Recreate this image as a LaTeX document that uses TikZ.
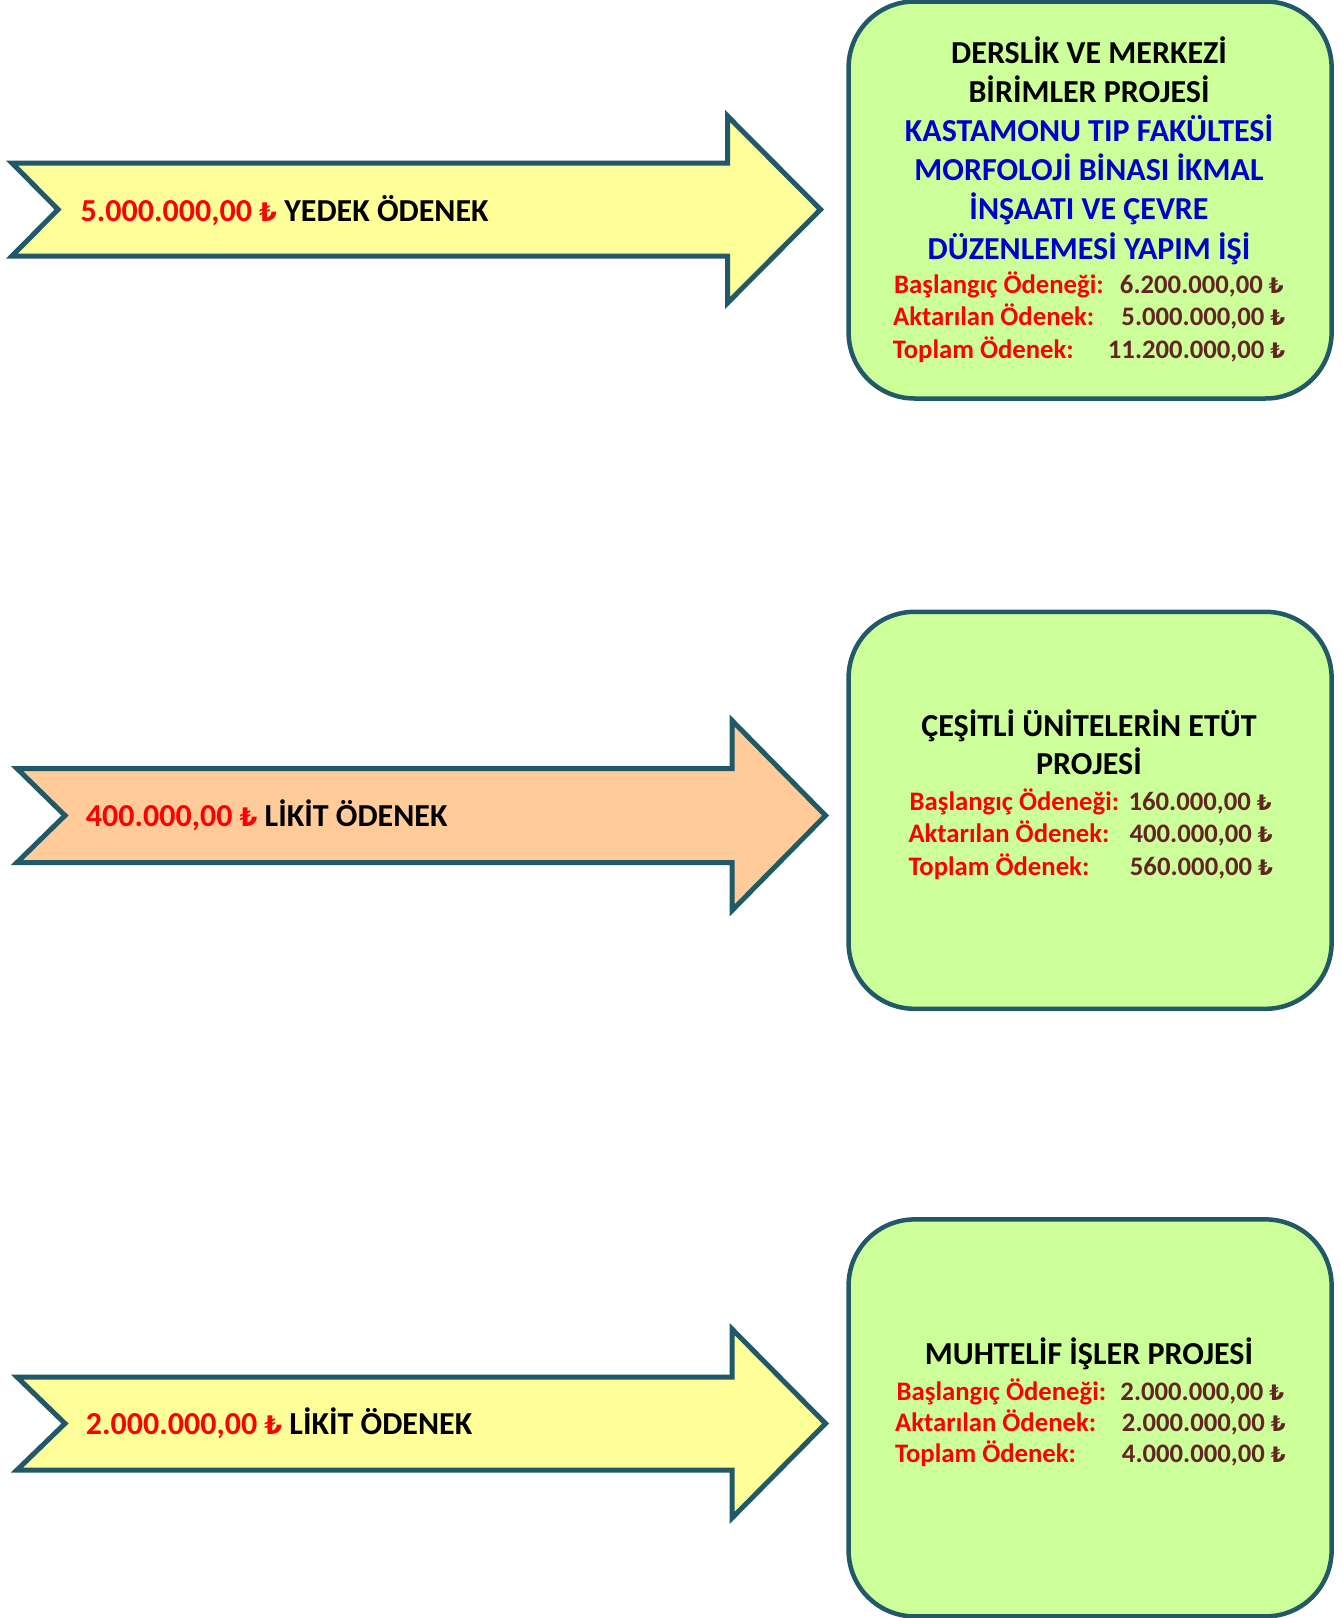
\documentclass[tikz,border=0pt]{standalone}
\usepackage{fontspec}
\setmainfont{Carlito}
\newfontfamily\lirafont{DejaVu Sans}
\newcommand{\mylira}{\scalebox{0.8}{\lirafont\bfseries ₺}}
\definecolor{edgec}{HTML}{215968}
\definecolor{yel}{HTML}{FFFF99}
\definecolor{ora}{HTML}{FFCC99}
\definecolor{grn}{HTML}{CCFF99}
\definecolor{valc}{HTML}{632523}
\definecolor{ttlc}{HTML}{0000CC}
\begin{document}
\begin{tikzpicture}[x=1pt,y=-1pt,
  shapeline/.style={draw=edgec, line width=5pt, line join=miter},
  box/.style={draw=edgec, line width=4.5pt, fill=grn, rectangle, rounded corners=66pt, minimum width=483pt, minimum height=397pt, inner sep=0pt},
  arrtext/.style={font=\fontsize{32}{39}\selectfont\bfseries, anchor=base west, inner sep=0pt},
  title/.style={font=\fontsize{32}{39}\selectfont\bfseries, anchor=base, inner sep=0pt},
  amt/.style={font=\fontsize{26.7}{32}\selectfont\bfseries, inner sep=0pt},
  lbl/.style={amt, text=red, anchor=base west},
  valn/.style={amt, text=valc, anchor=base east}]
\useasboundingbox (0,0) rectangle (1343,1618);

% arrows
\draw[shapeline, fill=yel] (12,163) -- (727.5,163) -- (727.5,116) -- (820.5,209.5) -- (727.5,303) -- (727.5,256) -- (12,256) -- (58,209.5) -- cycle;
\draw[shapeline, fill=ora] (17,768.5) -- (732,768.5) -- (732,720.5) -- (825.5,815.5) -- (732,910.5) -- (732,862.5) -- (17,862.5) -- (65,815.5) -- cycle;
\draw[shapeline, fill=yel] (17,1377) -- (732,1377) -- (732,1329) -- (825.5,1423.5) -- (732,1518) -- (732,1470) -- (17,1470) -- (65,1423.5) -- cycle;

\node[arrtext] (a1) at (80.5,221) {\textcolor{red}{5.000.000,00 \mylira} YEDEK ÖDENEK};
\node[arrtext] (a2) at (85.7,826) {\textcolor{red}{400.000,00 \mylira} LİKİT ÖDENEK};
\node[arrtext] (a3) at (85.7,1434) {\textcolor{red}{2.000.000,00 \mylira} LİKİT ÖDENEK};

% boxes
\node[box] (b1) at (1090.1,200) {};
\node[box] (b2) at (1090.1,810.3) {};
\node[box] (b3) at (1090.1,1417.9) {};

% box 1
\node[title] (b1t1) at (1089,63.5) {DERSLİK VE MERKEZİ};
\node[title] (b1t2) at (1089,102.6) {BİRİMLER PROJESİ};
\node[title, text=ttlc] (b1t3) at (1089,141.7) {KASTAMONU TIP FAKÜLTESİ};
\node[title, text=ttlc] (b1t4) at (1089,180.8) {MORFOLOJİ BİNASI İKMAL};
\node[title, text=ttlc] (b1t5) at (1089,219.9) {İNŞAATI VE ÇEVRE};
\node[title, text=ttlc] (b1t6) at (1089,259.0) {DÜZENLEMESİ YAPIM İŞİ};
\node[lbl] (b1l1) at (894,293.3) {Başlangıç Ödeneği:};
\node[lbl] (b1l2) at (893,325.7) {Aktarılan Ödenek:};
\node[lbl] (b1l3) at (892.7,358.3) {Toplam Ödenek:};
\node[valn] (b1v1) at (1284,293.3) {6.200.000,00 \mylira};
\node[valn] (b1v2) at (1285.5,325.7) {5.000.000,00 \mylira};
\node[valn] (b1v3) at (1285.5,358.3) {11.200.000,00 \mylira};

% box 2
\node[title] (b2t1) at (1089,736.7) {ÇEŞİTLİ ÜNİTELERİN ETÜT};
\node[title] (b2t2) at (1089,774) {PROJESİ};
\node[lbl] (b2l1) at (909.5,810.7) {Başlangıç Ödeneği:};
\node[lbl] (b2l2) at (908.3,842.7) {Aktarılan Ödenek:};
\node[lbl] (b2l3) at (908.3,875) {Toplam Ödenek:};
\node[valn] (b2v1) at (1272,810.7) {160.000,00 \mylira};
\node[valn] (b2v2) at (1273,842.7) {400.000,00 \mylira};
\node[valn] (b2v3) at (1273.3,875) {560.000,00 \mylira};

% box 3
\node[title] (b3t1) at (1089,1364) {MUHTELİF İŞLER PROJESİ};
\node[lbl] (b3l1) at (896.5,1400) {Başlangıç Ödeneği:};
\node[lbl] (b3l2) at (895,1431) {Aktarılan Ödenek:};
\node[lbl] (b3l3) at (895,1462) {Toplam Ödenek:};
\node[valn] (b3v1) at (1284.5,1400) {2.000.000,00 \mylira};
\node[valn] (b3v2) at (1286,1431) {2.000.000,00 \mylira};
\node[valn] (b3v3) at (1286,1462) {4.000.000,00 \mylira};
\end{tikzpicture}
\end{document}
